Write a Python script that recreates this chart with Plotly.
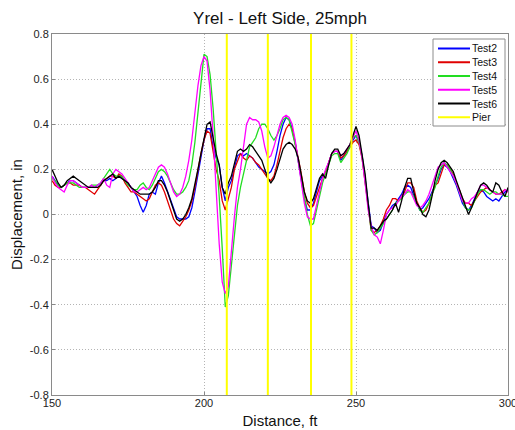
import plotly.graph_objects as go

distance = list(range(150, 301))

test2 = [0.17, 0.15, 0.13, 0.12, 0.13, 0.14, 0.15, 0.15, 0.14, 0.13,
         0.12, 0.12, 0.12, 0.12, 0.12, 0.13, 0.14, 0.15, 0.15, 0.16,
         0.15, 0.16, 0.17, 0.16, 0.15, 0.14, 0.12, 0.10, 0.08, 0.04,
         0.01, 0.04, 0.09, 0.10, 0.09, 0.14, 0.17, 0.14, 0.10, 0.06,
         0.02, -0.01, -0.02, -0.02, -0.02, -0.01, 0.03, 0.10, 0.18, 0.26,
         0.33, 0.38, 0.38, 0.30, 0.25, 0.22, 0.12, 0.06, 0.12, 0.15,
         0.20, 0.26, 0.27, 0.26, 0.27, 0.26, 0.25, 0.23, 0.21, 0.20,
         0.19, 0.18, 0.19, 0.22, 0.28, 0.35, 0.40, 0.43, 0.42, 0.38,
         0.32, 0.24, 0.15, 0.07, 0.02, 0.02, 0.05, 0.10, 0.15, 0.17,
         0.19, 0.23, 0.27, 0.28, 0.28, 0.24, 0.26, 0.28, 0.30, 0.33,
         0.35, 0.32, 0.26, 0.16, 0.05, -0.05, -0.06, -0.08, -0.07, -0.03,
         0.00, 0.02, 0.04, 0.05, 0.07, 0.09, 0.12, 0.13, 0.12, 0.08,
         0.05, 0.02, 0.03, 0.05, 0.07, 0.10, 0.13, 0.16, 0.20, 0.22,
         0.21, 0.19, 0.16, 0.13, 0.09, 0.05, 0.03, 0.02, 0.04, 0.07,
         0.10, 0.11, 0.10, 0.08, 0.07, 0.06, 0.07, 0.06, 0.08, 0.10,
         0.11]

test3 = [0.15, 0.13, 0.12, 0.12, 0.13, 0.14, 0.14, 0.13, 0.13, 0.13,
         0.12, 0.12, 0.11, 0.10, 0.09, 0.11, 0.13, 0.15, 0.16, 0.17,
         0.17, 0.16, 0.18, 0.17, 0.14, 0.12, 0.10, 0.10, 0.09, 0.08,
         0.07, 0.06, 0.07, 0.10, 0.13, 0.14, 0.13, 0.10, 0.06, 0.02,
         -0.02, -0.04, -0.05, -0.03, -0.01, 0.02, 0.06, 0.12, 0.20, 0.27,
         0.33, 0.37, 0.36, 0.28, 0.20, 0.15, 0.06, 0.02, 0.07, 0.12,
         0.20, 0.24, 0.27, 0.25, 0.24, 0.26, 0.25, 0.23, 0.22, 0.20,
         0.18, 0.16, 0.15, 0.17, 0.22, 0.28, 0.34, 0.38, 0.40, 0.38,
         0.32, 0.25, 0.18, 0.10, 0.05, 0.03, 0.04, 0.08, 0.13, 0.16,
         0.19, 0.23, 0.27, 0.28, 0.28, 0.25, 0.26, 0.28, 0.30, 0.32,
         0.33, 0.31, 0.25, 0.15, 0.04, -0.07, -0.08, -0.07, -0.05, -0.02,
         0.02, 0.04, 0.07, 0.07, 0.06, 0.08, 0.10, 0.14, 0.14, 0.12,
         0.06, 0.03, 0.01, 0.02, 0.05, 0.09, 0.13, 0.14, 0.18, 0.22,
         0.22, 0.20, 0.18, 0.14, 0.11, 0.07, 0.05, 0.05, 0.04, 0.06,
         0.08, 0.10, 0.11, 0.12, 0.11, 0.10, 0.09, 0.09, 0.10, 0.11,
         0.10]

test4 = [0.16, 0.15, 0.13, 0.12, 0.13, 0.14, 0.14, 0.14, 0.13, 0.12,
         0.12, 0.12, 0.12, 0.13, 0.13, 0.13, 0.14, 0.16, 0.18, 0.20,
         0.18, 0.17, 0.17, 0.17, 0.15, 0.13, 0.12, 0.11, 0.11, 0.13,
         0.14, 0.12, 0.11, 0.13, 0.16, 0.19, 0.20, 0.19, 0.17, 0.14,
         0.11, 0.09, 0.09, 0.10, 0.12, 0.15, 0.22, 0.32, 0.45, 0.60,
         0.71, 0.70, 0.62, 0.47, 0.28, 0.08, -0.15, -0.41, -0.36, -0.22,
         -0.08, 0.04, 0.12, 0.18, 0.25, 0.30, 0.32, 0.34, 0.38, 0.40,
         0.40, 0.38, 0.35, 0.33, 0.35, 0.38, 0.42, 0.43, 0.42, 0.37,
         0.31, 0.24, 0.16, 0.08, 0.00, -0.05, -0.04, 0.02, 0.08, 0.14,
         0.18, 0.22, 0.26, 0.27, 0.27, 0.23, 0.25, 0.27, 0.30, 0.34,
         0.35, 0.32, 0.26, 0.15, 0.03, -0.07, -0.09, -0.08, -0.06, -0.04,
         -0.02, 0.00, 0.02, 0.05, 0.06, 0.07, 0.09, 0.10, 0.10, 0.08,
         0.05, 0.02, 0.01, 0.03, 0.05, 0.09, 0.12, 0.17, 0.21, 0.23,
         0.22, 0.20, 0.17, 0.14, 0.10, 0.06, 0.03, 0.02, 0.03, 0.06,
         0.09, 0.11, 0.11, 0.10, 0.09, 0.10, 0.10, 0.09, 0.09, 0.08,
         0.08]

test5 = [0.17, 0.14, 0.12, 0.11, 0.10, 0.13, 0.15, 0.15, 0.14, 0.13,
         0.12, 0.12, 0.12, 0.13, 0.12, 0.13, 0.14, 0.16, 0.13, 0.12,
         0.18, 0.20, 0.19, 0.18, 0.16, 0.14, 0.12, 0.10, 0.10, 0.11,
         0.12, 0.11, 0.12, 0.15, 0.18, 0.21, 0.22, 0.21, 0.18, 0.14,
         0.10, 0.08, 0.09, 0.12, 0.17, 0.24, 0.33, 0.45, 0.57, 0.66,
         0.70, 0.68, 0.55, 0.35, 0.10, -0.13, -0.30, -0.35, -0.32, -0.15,
         -0.01, 0.12, 0.20, 0.30, 0.40, 0.43, 0.42, 0.42, 0.41, 0.37,
         0.30, 0.25, 0.26, 0.30, 0.35, 0.40, 0.43, 0.44, 0.43, 0.40,
         0.33, 0.24, 0.14, 0.05, -0.01, -0.02, -0.02, 0.04, 0.10, 0.16,
         0.20, 0.23, 0.27, 0.28, 0.28, 0.26, 0.27, 0.29, 0.31, 0.34,
         0.37, 0.33, 0.25, 0.14, 0.02, -0.05, -0.09, -0.10, -0.13, -0.07,
         0.00, 0.02, 0.03, 0.04, 0.06, 0.08, 0.09, 0.11, 0.10, 0.07,
         0.04, 0.03, 0.04, 0.06, 0.09, 0.13, 0.17, 0.21, 0.22, 0.23,
         0.21, 0.19, 0.17, 0.14, 0.10, 0.06, 0.05, 0.05, 0.07, 0.08,
         0.10, 0.13, 0.13, 0.12, 0.11, 0.10, 0.09, 0.09, 0.09, 0.11,
         0.10]

test6 = [0.20, 0.17, 0.14, 0.12, 0.13, 0.15, 0.16, 0.17, 0.16, 0.15,
         0.14, 0.13, 0.12, 0.12, 0.12, 0.12, 0.13, 0.15, 0.16, 0.17,
         0.18, 0.16, 0.17, 0.16, 0.15, 0.14, 0.12, 0.11, 0.10, 0.09,
         0.09, 0.09, 0.09, 0.10, 0.12, 0.15, 0.15, 0.13, 0.10, 0.06,
         0.02, -0.02, -0.03, -0.02, 0.00, 0.03, 0.07, 0.13, 0.20, 0.27,
         0.34, 0.40, 0.41, 0.33, 0.27, 0.22, 0.12, 0.09, 0.14, 0.17,
         0.22, 0.28, 0.29, 0.28, 0.29, 0.31, 0.30, 0.28, 0.26, 0.24,
         0.20, 0.16, 0.14, 0.16, 0.20, 0.25, 0.29, 0.31, 0.32, 0.31,
         0.29, 0.25, 0.18, 0.10, 0.06, 0.05, 0.07, 0.12, 0.16, 0.18,
         0.16, 0.22, 0.27, 0.29, 0.29, 0.26, 0.27, 0.29, 0.31, 0.35,
         0.39, 0.35, 0.27, 0.18, 0.05, -0.06, -0.06, -0.07, -0.05, -0.03,
         -0.02, 0.00, 0.02, 0.05, 0.01, 0.06, 0.12, 0.16, 0.16, 0.10,
         0.05, 0.03, 0.00, -0.01, 0.02, 0.08, 0.15, 0.20, 0.23, 0.24,
         0.23, 0.21, 0.19, 0.15, 0.11, 0.07, 0.03, 0.00, 0.03, 0.07,
         0.10, 0.13, 0.14, 0.13, 0.11, 0.10, 0.14, 0.13, 0.10, 0.08,
         0.12]

pier_positions = [207.5, 221.0, 235.2, 248.5]

series_names = ["Test2", "Test3", "Test4", "Test5", "Test6"]
series_values = [test2, test3, test4, test5, test6]
series_colors = ["#0000ff", "#e00000", "#22dd22", "#ff00ff", "#000000"]
pier_name = "Pier"
pier_color = "#ffff00"

x_range = [150, 300]
y_range = [-0.8, 0.8]
x_ticks = [150, 200, 250, 300]
y_ticks = [-0.8, -0.6, -0.4, -0.2, 0, 0.2, 0.4, 0.6, 0.8]
y_tick_text = ["-0.8", "-0.6", "-0.4", "-0.2", "0", "0.2", "0.4", "0.6", "0.8"]

W, H = 515, 430
ML, MR, MT, MB = 52, 7, 34, 35
FONT = "Arial, Liberation Sans, sans-serif"

fig = go.Figure()
for name, vals, col in zip(series_names, series_values, series_colors):
    fig.add_trace(go.Scatter(x=distance, y=vals, mode="lines", name=name,
                             line=dict(color=col, width=1.3), showlegend=False))

px_, py_ = [], []
for p in pier_positions:
    px_ += [p, p, None]
    py_ += [y_range[0], y_range[1], None]
fig.add_trace(go.Scatter(x=px_, y=py_, mode="lines", name=pier_name,
                         line=dict(color=pier_color, width=2), showlegend=False))

# manual legend (compact, like MATLAB)
pw = W - ML - MR
ph = H - MT - MB
def fx(px):
    return (px - ML) / pw
def fy(py):
    return (H - MB - py) / ph

shapes = []
annotations = []
shapes.append(dict(type="rect", xref="paper", yref="paper",
                   x0=fx(433), x1=fx(505), y0=fy(126), y1=fy(39),
                   line=dict(color="#8c8c8c", width=1), fillcolor="white", layer="above"))
leg_names = series_names + [pier_name]
leg_colors = series_colors + [pier_color]
for i, (n, c) in enumerate(zip(leg_names, leg_colors)):
    yy = 48.5 + 13.75 * i
    shapes.append(dict(type="line", xref="paper", yref="paper",
                       x0=fx(438), x1=fx(470), y0=fy(yy), y1=fy(yy),
                       line=dict(color=c, width=2), layer="above"))
    annotations.append(dict(xref="paper", yref="paper", x=fx(471), y=fy(yy),
                            text=n, showarrow=False, xanchor="left", yanchor="middle",
                            borderpad=0, font=dict(family=FONT, size=10.5, color="#111")))

fig.update_layout(
    width=W, height=H,
    margin=dict(l=ML, r=MR, t=MT, b=MB, autoexpand=False),
    paper_bgcolor="white", plot_bgcolor="white",
    title=dict(text="Yrel - Left Side, 25mph", x=0.5, xref="paper",
               y=1 - 18 / H, yref="container", xanchor="center", yanchor="middle",
               font=dict(family=FONT, size=17, color="#111")),
    shapes=shapes, annotations=annotations,
    showlegend=False,
)
fig.update_xaxes(range=x_range, tickvals=x_ticks, ticks="inside", ticklen=3,
                 tickcolor="#888", showline=True, linecolor="#8a8a8a", linewidth=1,
                 mirror=True, showgrid=True, gridcolor="#b4b4b4", griddash="1px,2px",
                 gridwidth=1, zeroline=False, automargin=False,
                 ticklabeloverflow="allow", ticklabelstandoff=-2,
                 tickfont=dict(family=FONT, size=11, color="#222"),
                 title=dict(text="Distance, ft", font=dict(family=FONT, size=15, color="#111"),
                            standoff=7))
fig.update_yaxes(range=y_range, tickvals=y_ticks, ticktext=y_tick_text, ticks="inside",
                 ticklen=3, tickcolor="#888", showline=True, linecolor="#8a8a8a",
                 linewidth=1, mirror=True, showgrid=True, gridcolor="#b4b4b4",
                 griddash="1px,2px", gridwidth=1, zeroline=False, automargin=False,
                 ticklabeloverflow="allow",
                 tickfont=dict(family=FONT, size=11, color="#222"),
                 title=dict(text="Displacement, in", font=dict(family=FONT, size=15, color="#111"),
                            standoff=3))

fig.write_html("out.html",
               config={"displayModeBar": False},
               post_script="document.body.style.margin='0';document.body.style.overflow='hidden';")
